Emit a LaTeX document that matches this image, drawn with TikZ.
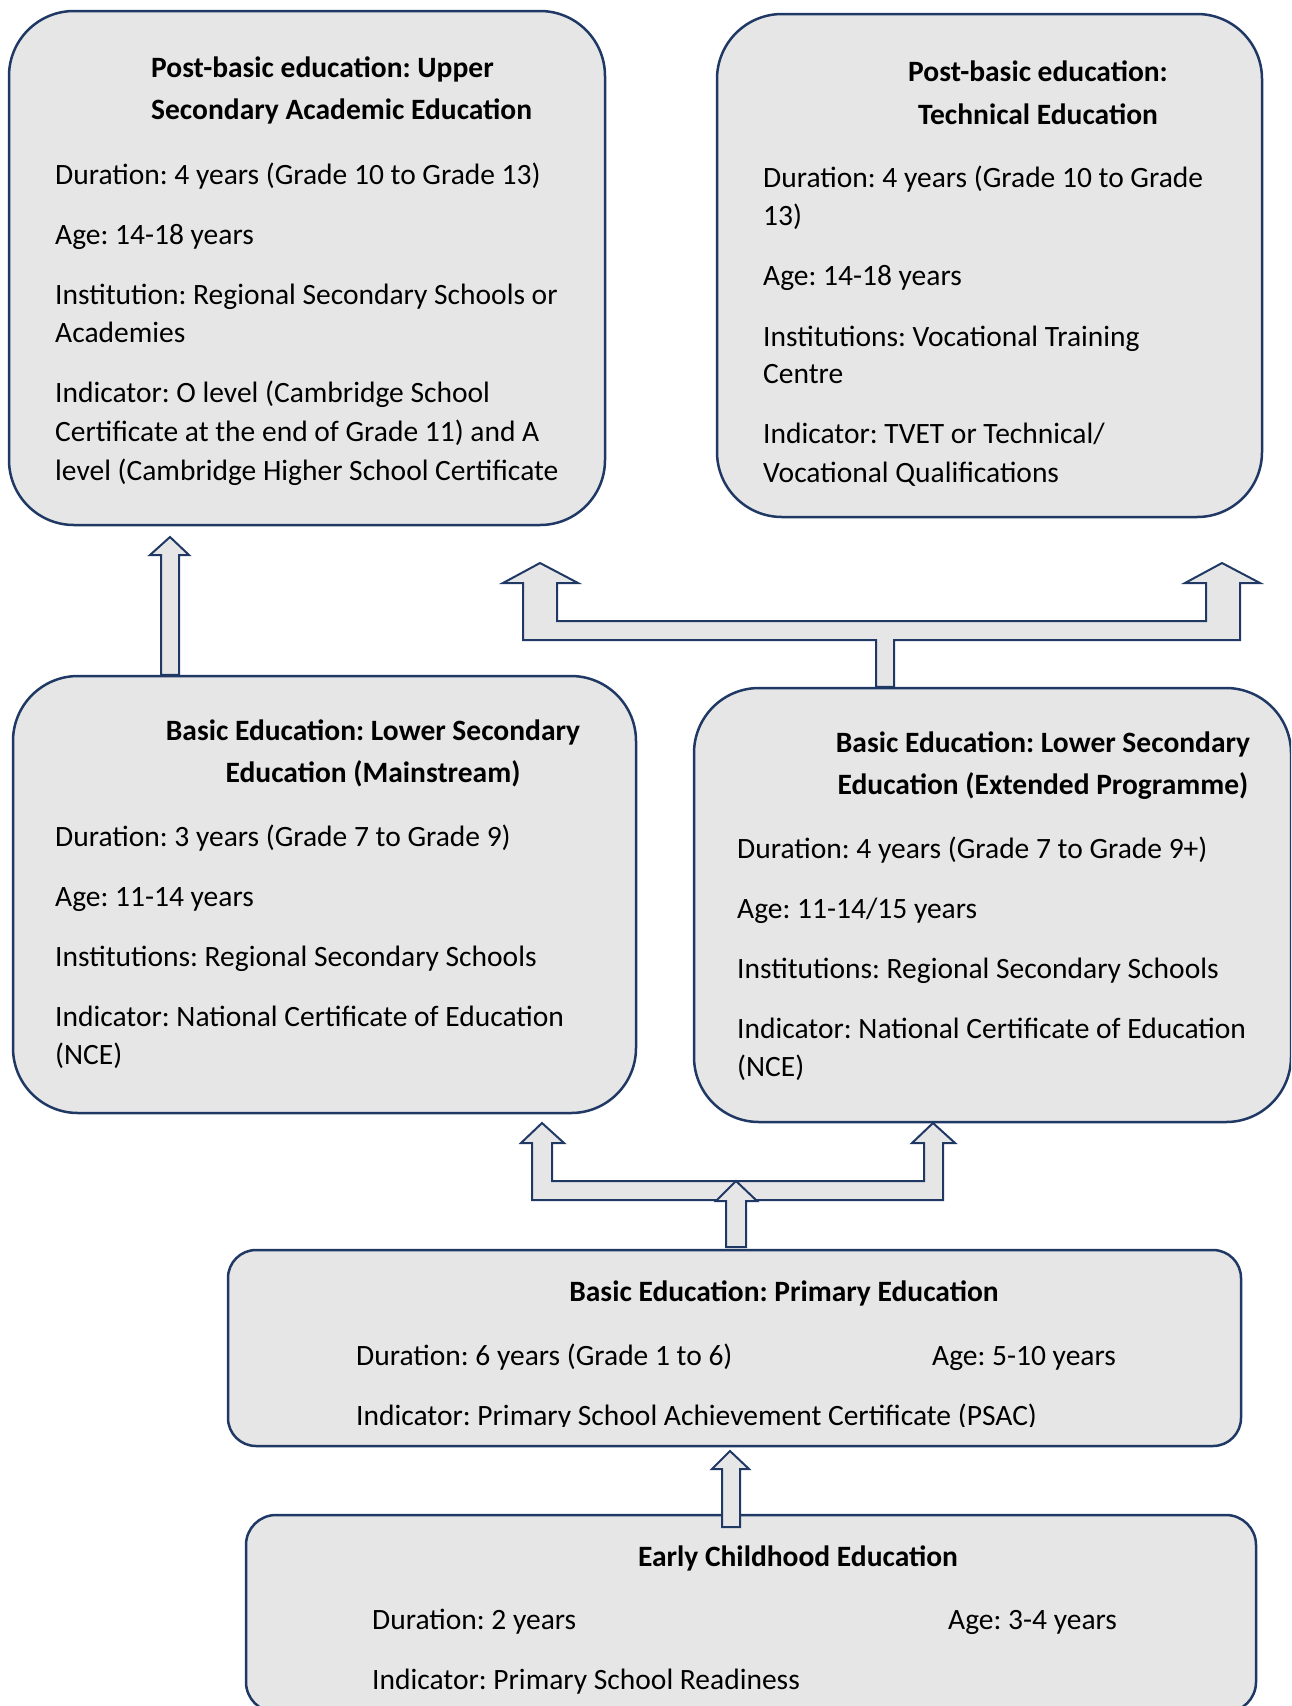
\documentclass[tikz,border=0pt]{standalone}
\usepackage{fontspec}
\setmainfont{Carlito}
\frenchspacing
\definecolor{edge}{RGB}{31,56,100}
\definecolor{boxfill}{RGB}{230,230,230}
\tikzset{
  box/.style={draw=edge,fill=boxfill,line width=2.5pt,rounded corners=#1,inner sep=0pt},
  blk/.style={draw=edge,fill=boxfill,line width=2pt,line join=miter},
  txt/.style={anchor=base west,inner sep=0pt,yshift=-3pt,font=\fontsize{29.5}{36}\selectfont},
  hd/.style={anchor=base,inner sep=0pt,yshift=-3pt,font=\fontsize{29.5}{36}\selectfont\bfseries},
  hdl/.style={hd,anchor=base west}
}
\begin{document}
\begin{tikzpicture}[x=1pt,y=-1pt]
  \path[use as bounding box] (0,0) rectangle (1291,1706);
  \clip (0,0) rectangle (1291,1706);
  % boxes
  \node[box=65pt,minimum width=596pt,minimum height=514pt] (upper) at (307,268) {};
  \node[box=65pt,minimum width=545pt,minimum height=503pt] (tech) at (989.5,265.5) {};
  \node[box=65pt,minimum width=623pt,minimum height=437pt] (lowm) at (324.5,894.5) {};
  \node[box=65pt,minimum width=597pt,minimum height=434pt] (lowx) at (992.5,905) {};
  \node[box=28pt,minimum width=1013pt,minimum height=196pt] (prim) at (734.5,1348) {};
  \node[box=30pt,minimum width=1010pt,minimum height=197pt] (early) at (751,1613.5) {};

  % upper secondary academic
  \node[hdl] (upper-h1) at (151,74) {Post-basic education: Upper};
  \node[hdl] (upper-h2) at (151,116) {Secondary Academic Education};
  \node[txt] (upper-1) at (55,181) {Duration: 4 years (Grade 10 to Grade 13)};
  \node[txt] (upper-2) at (55,241) {Age: 14-18 years};
  \node[txt] (upper-3) at (55,301) {Institution: Regional Secondary Schools or};
  \node[txt] (upper-4) at (55,339) {Academies};
  \node[txt] (upper-5) at (55,399) {Indicator: O level (Cambridge School};
  \node[txt] (upper-6) at (55,438) {Certificate at the end of Grade 11) and A};
  \node[txt] (upper-7) at (55,477) {level (Cambridge Higher School Certificate};

  % technical
  \node[hd] (tech-h1) at (1038,78) {Post-basic education:};
  \node[hd] (tech-h2) at (1038,121) {Technical Education};
  \node[txt] (tech-1) at (763,184) {Duration: 4 years (Grade 10 to Grade};
  \node[txt] (tech-2) at (763,222) {13)};
  \node[txt] (tech-3) at (763,282) {Age: 14-18 years};
  \node[txt] (tech-4) at (763,343) {Institutions: Vocational Training};
  \node[txt] (tech-5) at (763,380) {Centre};
  \node[txt] (tech-6) at (763,440) {Indicator: TVET or Technical/};
  \node[txt] (tech-7) at (763,479) {Vocational Qualifications};

  % lower secondary mainstream
  \node[hd] (lowm-h1) at (373,737) {Basic Education: Lower Secondary};
  \node[hd] (lowm-h2) at (373,779) {Education (Mainstream)};
  \node[txt] (lowm-1) at (55,843) {Duration: 3 years (Grade 7 to Grade 9)};
  \node[txt] (lowm-2) at (55,903) {Age: 11-14 years};
  \node[txt] (lowm-3) at (55,963) {Institutions: Regional Secondary Schools};
  \node[txt] (lowm-4) at (55,1023) {Indicator: National Certificate of Education};
  \node[txt] (lowm-5) at (55,1061) {(NCE)};

  % lower secondary extended
  \node[hd] (lowx-h1) at (1043,749) {Basic Education: Lower Secondary};
  \node[hd] (lowx-h2) at (1043,791) {Education (Extended Programme)};
  \node[txt] (lowx-1) at (737,855) {Duration: 4 years (Grade 7 to Grade 9+)};
  \node[txt] (lowx-2) at (737,915) {Age: 11-14/15 years};
  \node[txt] (lowx-3) at (737,975) {Institutions: Regional Secondary Schools};
  \node[txt] (lowx-4) at (737,1035) {Indicator: National Certificate of Education};
  \node[txt] (lowx-5) at (737,1073) {(NCE)};

  % primary
  \node[hd] (prim-h) at (784,1298) {Basic Education: Primary Education};
  \node[txt] (prim-1) at (356,1362) {Duration: 6 years (Grade 1 to 6)};
  \node[txt] (prim-2) at (932,1362) {Age: 5-10 years};
  \begin{scope}
    \clip (228,1250) rectangle (1241,1426);
    \node[txt] (prim-3) at (356,1422) {Indicator: Primary School Achievement Certificate (PSAC)};
  \end{scope}

  % early childhood
  \node[hd] (early-h) at (798,1563) {Early Childhood Education};
  \node[txt] (early-1) at (372,1626) {Duration: 2 years};
  \node[txt] (early-2) at (948,1626) {Age: 3-4 years};
  \node[txt] (early-3) at (372,1686) {Indicator: Primary School Readiness};

  % block arrows
  \draw[blk] (161,0 |- lowm.north) -- (161,555) -- (150,555) -- (170,537) -- (189,555)
    -- (179,555) -- (179,0 |- lowm.north) -- cycle;
  \draw[blk] (876,0 |- lowx.north) -- (876,640) -- (523,640) -- (523,583) -- (503,583)
    -- (540,563) -- (578,583) -- (557,583) -- (557,621) -- (1206,621) -- (1206,583)
    -- (1185,583) -- (1222,563) -- (1260,583) -- (1240,583) -- (1240,640) -- (894,640)
    -- (894,0 |- lowx.north) -- cycle;
  \draw[blk] (532,1200) -- (532,1143) -- (521,1143) -- (542,1123) -- (564,1143)
    -- (552,1143) -- (552,1181) -- (924,1181) -- (924,1143) -- (912,1143) -- (933,1123)
    -- (955,1143) -- (943,1143) -- (943,1200) -- cycle;
  \draw[blk] (726,1247) -- (726,1201) -- (716,1201) -- (736,1181) -- (757,1201)
    -- (746,1201) -- (746,1247) -- cycle;
  \draw[blk] (722,1527) -- (722,1469) -- (712,1469) -- (730,1451) -- (749,1469)
    -- (740,1469) -- (740,1527) -- cycle;
\end{tikzpicture}
\end{document}
